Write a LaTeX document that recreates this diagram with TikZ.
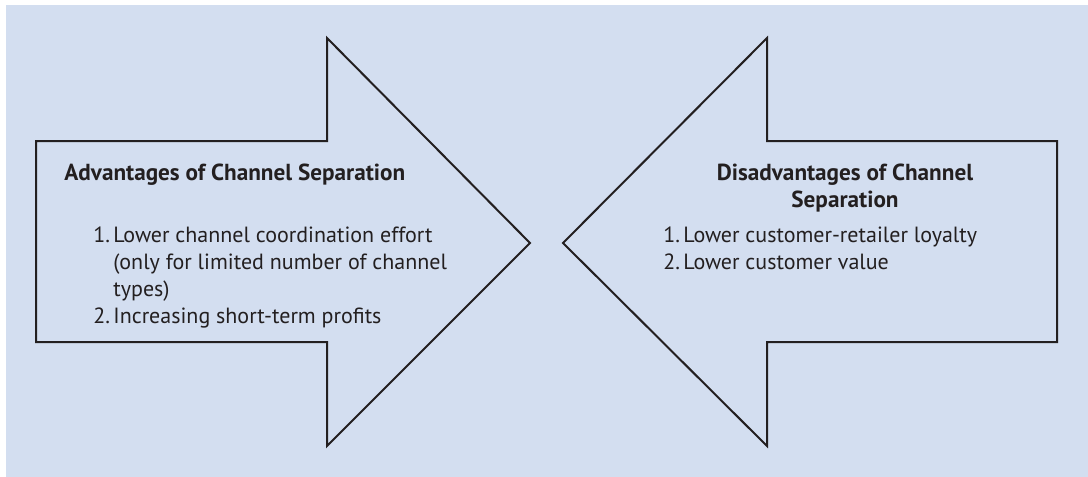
\documentclass[tikz,border=0pt]{standalone}
\usepackage{fontspec}
\setmainfont{PT Sans}
\usetikzlibrary{positioning}

\definecolor{bgblue}{HTML}{D3DEF0}
\definecolor{inkgrey}{HTML}{231F20}

\begin{document}
\begin{tikzpicture}[x=0.5pt, y=-0.5pt, line join=miter]

\useasboundingbox (0,0) rectangle (1088,477);
\fill[bgblue] (6,5) rectangle (1088,477);

\tikzset{
    arrowline/.style={draw=inkgrey, line width=1pt},
    headtext/.style={font=\fontsize{11.6}{13.5}\selectfont\bfseries, text=inkgrey, inner sep=0pt},
    listtext/.style={font=\fontsize{11}{13.5}\selectfont, text=inkgrey, inner sep=0pt, align=left}
}

% left arrow (pointing right)
\draw[arrowline] (36,141) -- (327,141) -- (327,38) -- (530,243)
    -- (327,446) -- (327,342) -- (36,342) -- cycle;

% right arrow (pointing left)
\draw[arrowline] (1057,141) -- (767,141) -- (767,38) -- (563,243)
    -- (767,446) -- (767,342) -- (1057,342) -- cycle;

% advantages
\node[headtext, anchor=base west] (advtitle) at (64,180) {Advantages of Channel Separation};
\node[listtext, anchor=base west] (advlist) at (93,323)
    {\makebox[10pt][l]{1.}Lower channel coordination effort\\
     \hspace*{10pt}(only for limited number of channel\\
     \hspace*{10pt}types)\\
     \makebox[10pt][l]{2.}Increasing short-term profits};

% disadvantages
\node[headtext, align=center, anchor=base] (distitle) at (845,207)
    {Disadvantages of Channel\\Separation};
\node[listtext, anchor=base west] (dislist) at (663,269)
    {\makebox[10pt][l]{1.}Lower customer-retailer loyalty\\
     \makebox[10pt][l]{2.}Lower customer value};

\end{tikzpicture}
\end{document}
